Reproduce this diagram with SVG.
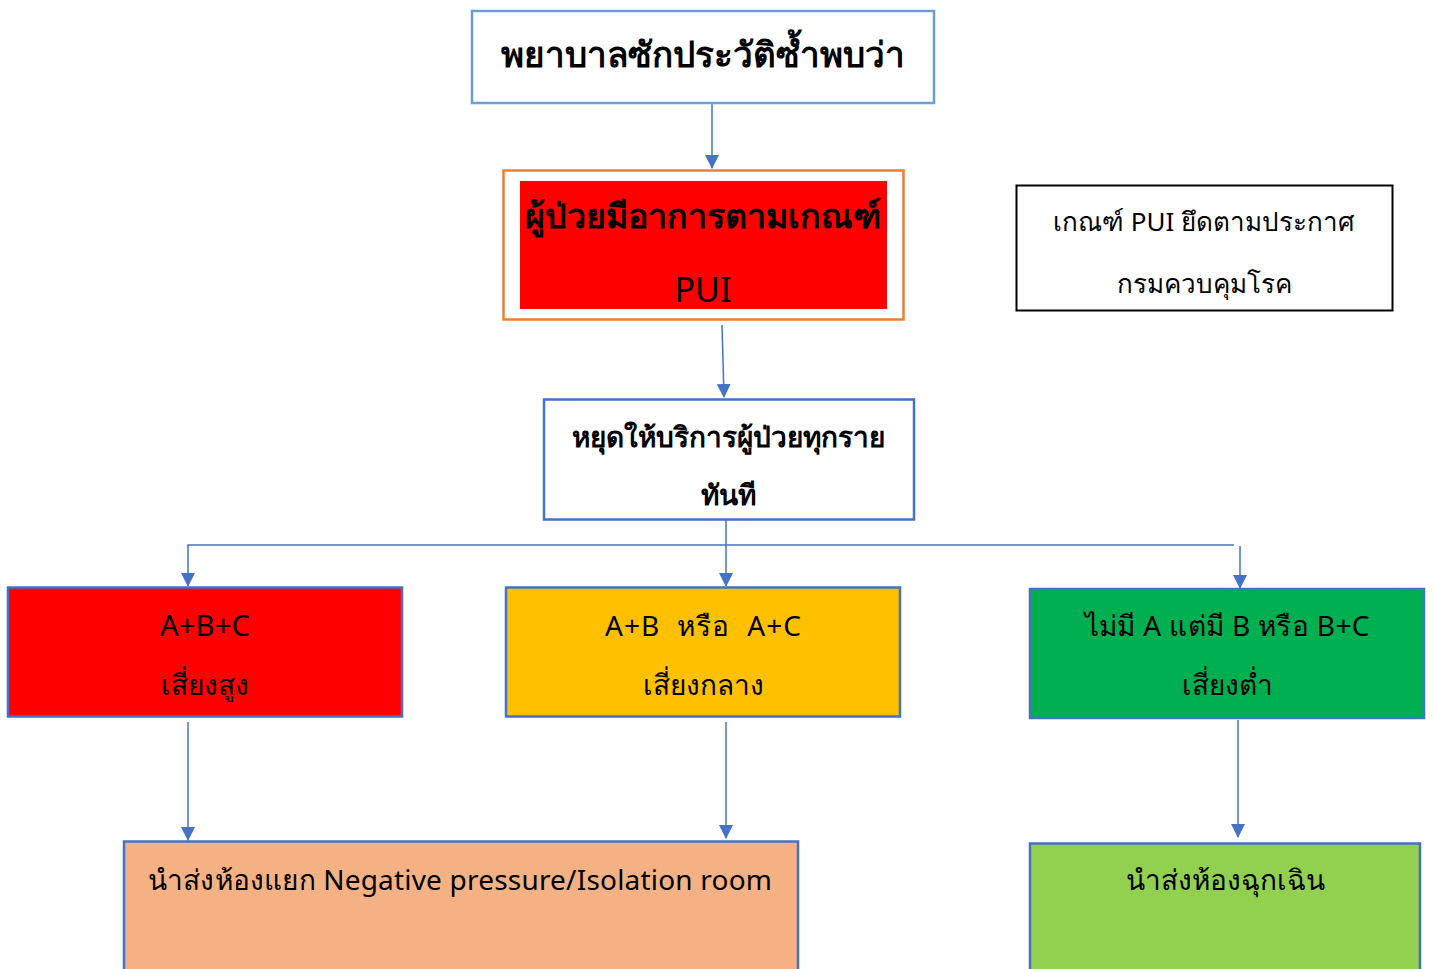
<svg xmlns="http://www.w3.org/2000/svg" width="1435" height="969" viewBox="0 0 1435 969">
<defs>
<style>
text{font-family:"Noto Sans","DejaVu Sans",sans-serif;fill:#000;text-anchor:middle}
.b{font-weight:bold}
.box{stroke:#4472C4;stroke-width:2.5}
.con{stroke:#4472C4;stroke-width:1.5;fill:none}
</style>
<marker id="arr" markerWidth="14" markerHeight="14" refX="13" refY="7" orient="auto" markerUnits="userSpaceOnUse">
<path d="M0,0 L14,7 L0,14 Z" fill="#4472C4"/>
</marker>
</defs>
<rect width="1435" height="969" fill="#fff"/>
<g id="connectors">
<line class="con" x1="712" y1="104" x2="712" y2="168" marker-end="url(#arr)"/>
<line class="con" x1="722" y1="325" x2="724" y2="397" marker-end="url(#arr)"/>
<line class="con" x1="726" y1="520" x2="726" y2="586" marker-end="url(#arr)"/>
<polyline class="con" points="1234,545 188,545 188,586" marker-end="url(#arr)"/>
<line class="con" x1="1240" y1="546" x2="1240" y2="588" marker-end="url(#arr)"/>
<line class="con" x1="188" y1="722" x2="188" y2="840" marker-end="url(#arr)"/>
<line class="con" x1="726" y1="722" x2="726" y2="838" marker-end="url(#arr)"/>
<line class="con" x1="1238" y1="720" x2="1238" y2="837" marker-end="url(#arr)"/>
</g>
<g id="n1">
<rect x="472" y="11" width="462" height="92" fill="#fff" stroke="#6A9FDB" stroke-width="2.5"/>
<text class="b" x="703" y="67" font-size="35">พยาบาลซักประวัติซ้ำพบว่า</text>
</g>
<g id="n2">
<rect x="503.5" y="170.5" width="400" height="149" fill="#fff" stroke="#ED7D31" stroke-width="2.5"/>
<rect x="520" y="181" width="367" height="128" fill="#FF0000"/>
<text class="b" x="703" y="228" font-size="34">ผู้ป่วยมีอาการตามเกณฑ์</text>
<text x="703" y="302" font-size="34">PUI</text>
</g>
<g id="n3">
<rect x="1016.5" y="185.5" width="376" height="125" fill="#fff" stroke="#000" stroke-width="2"/>
<text x="1204" y="231" font-size="26">เกณฑ์ PUI ยึดตามประกาศ</text>
<text x="1204" y="293" font-size="26">กรมควบคุมโรค</text>
</g>
<g id="n4">
<rect class="box" x="544" y="399.5" width="370" height="120" fill="#fff"/>
<text class="b" x="728" y="447" font-size="28">หยุดให้บริการผู้ป่วยทุกราย</text>
<text class="b" x="728" y="505" font-size="28">ทันที</text>
</g>
<g id="n5">
<rect class="box" x="8" y="587.5" width="394" height="129" fill="#FF0000"/>
<text x="205" y="636" font-size="28.5" textLength="90" lengthAdjust="spacingAndGlyphs">A+B+C</text>
<text x="205" y="695" font-size="28">เสี่ยงสูง</text>
</g>
<g id="n6">
<rect class="box" x="506" y="587.5" width="394" height="129" fill="#FFC000"/>
<text x="703" y="636" font-size="28" xml:space="preserve" textLength="196" lengthAdjust="spacing">A+B  หรือ  A+C</text>
<text x="703" y="695" font-size="28">เสี่ยงกลาง</text>
</g>
<g id="n7">
<rect class="box" x="1030" y="589" width="394" height="129" fill="#00B050"/>
<text x="1227" y="636" font-size="28" textLength="285" lengthAdjust="spacing">ไม่มี A แต่มี B หรือ B+C</text>
<text x="1227" y="695" font-size="28">เสี่ยงต่ำ</text>
</g>
<g id="n8">
<rect class="box" x="124" y="841.5" width="674" height="140" fill="#F4B183"/>
<text x="460" y="890" font-size="28" textLength="624" lengthAdjust="spacing">นำส่งห้องแยก Negative pressure/Isolation room</text>
</g>
<g id="n9">
<rect class="box" x="1030" y="843.5" width="390" height="140" fill="#92D050"/>
<text x="1225" y="890" font-size="28">นำส่งห้องฉุกเฉิน</text>
</g>
</svg>
